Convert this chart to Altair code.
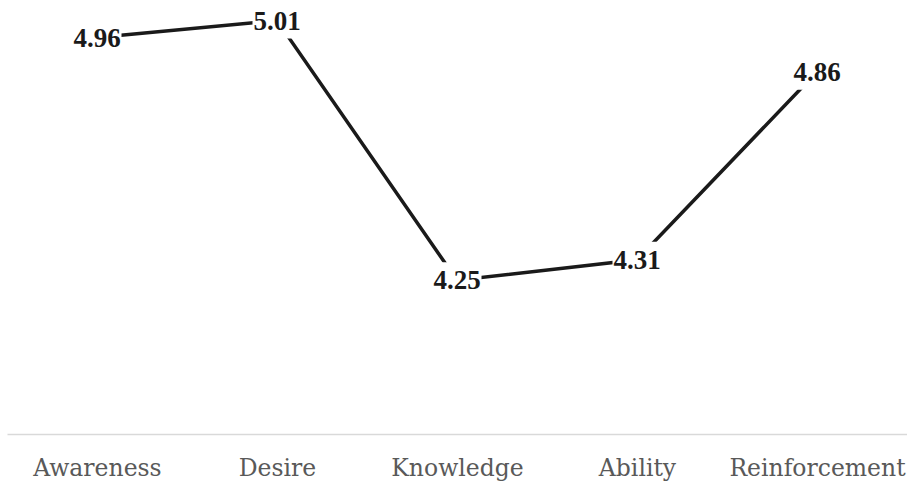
import altair as alt
import pandas as pd

categories = ["Awareness", "Desire", "Knowledge", "Ability", "Reinforcement"]
values = [4.96, 5.01, 4.25, 4.31, 4.86]
labels = ["4.96", "5.01", "4.25", "4.31", "4.86"]

df = pd.DataFrame({"cat": categories, "val": values, "lab": labels})

x = alt.X(
    "cat:N",
    sort=categories,
    scale=alt.Scale(type="point", padding=0.5),
    axis=alt.Axis(
        title=None,
        labelAngle=0,
        ticks=False,
        domainColor="#d9d9d9",
        domainWidth=1.5,
        labelPadding=22,
        labelFont="DejaVu Serif",
        labelFontSize=23.5,
        labelColor="#595959",
        grid=False,
    ),
)
y = alt.Y(
    "val:Q",
    scale=alt.Scale(domain=[3.8, 5.07], nice=False, zero=False),
    axis=None,
)

base = alt.Chart(df).encode(x=x, y=y)

line = base.mark_line(color="#1a1a1a", strokeWidth=3.5)
box = base.mark_point(
    shape="M-1,-0.735L1,-0.735L1,0.735L-1,0.735Z",
    size=2401,
    filled=True,
    fill="white",
    stroke=None,
    opacity=1,
)
text = base.mark_text(
    font="Liberation Serif",
    fontWeight="bold",
    fontSize=27,
    color="#1a1a1a",
    baseline="middle",
    align="center",
    dy=1,
).encode(text="lab:N")

chart = (
    alt.layer(line, box, text)
    .properties(
        width=900,
        height=434,
        padding={"left": 7, "top": 0, "right": 0, "bottom": 50},
        autosize="none",
        background="white",
    )
    .configure_view(stroke=None)
)

chart.save("out.html", embed_options={"renderer": "svg", "actions": False})
